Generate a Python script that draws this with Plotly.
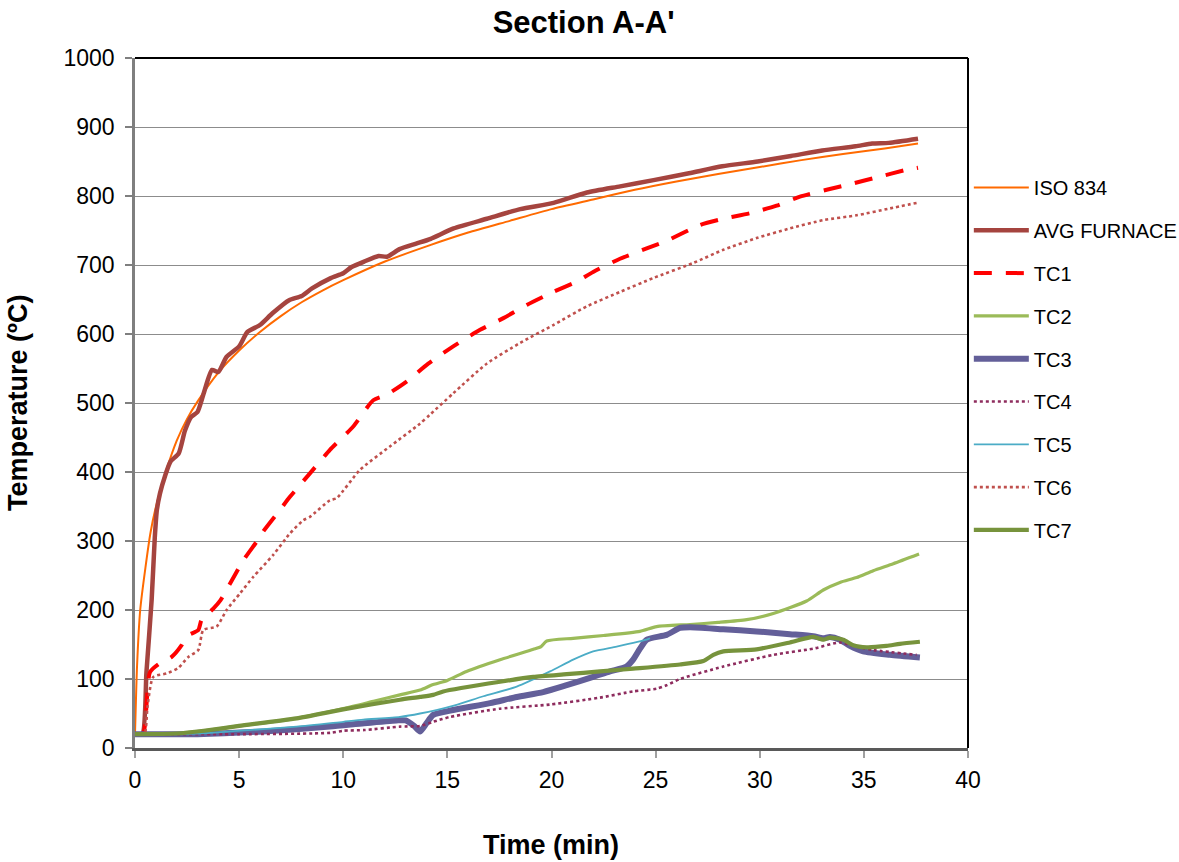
import plotly.graph_objects as go

# ---------------- data ----------------
iso_t = [0, 0.1, 0.25, 0.5, 0.75, 1, 1.5, 2, 2.5, 3, 4, 5, 6, 7, 8, 9, 10, 12, 14, 16, 18,
         20, 22, 24, 26, 28, 30, 32, 34, 36, 37.6]
iso_T = [20, 120, 200, 261, 313, 349, 402, 445, 477, 502, 544, 576, 603, 626, 646, 663, 678,
         705, 727, 747, 764, 781, 795, 809, 821, 832, 842, 852, 861, 869, 876]

avg_t = [0, 0.35, 0.55, 0.8, 0.95, 1.05, 1.2, 1.45, 1.7, 2.1, 2.4, 2.7, 3.0, 3.3, 3.7, 4.0, 4.4,
         5.0, 5.4, 6.0, 6.6, 7.4, 8.0, 8.5, 9.4, 10.0, 10.4, 11.0, 11.7, 12.1, 12.7, 13.5, 14.2,
         15.3, 16.9, 18.5, 20.1, 21.7, 23.3, 24.9, 26.6, 28.2, 29.9, 31.5, 33.0, 34.6, 35.4,
         36.2, 37.6]
avg_T = [20, 20, 110, 215, 305, 345, 369, 395, 415, 427, 460, 480, 487, 514, 548, 545, 567,
         582, 603, 613, 630, 649, 655, 666, 681, 688, 697, 705, 713, 712, 723, 731, 738,
         753, 767, 781, 790, 805, 814, 823, 833, 843, 850, 858, 866, 872, 876, 877, 883]

tc1_t = [0, 0.38, 0.72, 1.2, 1.76, 2.24, 2.48, 3.04, 3.2, 3.76, 4.1, 4.56, 5.2, 5.84, 6.16,
         6.96, 7.44, 8.4, 9.36, 10.48, 11.44, 12.08, 13.04, 14.08, 15.28, 16.57, 17.69, 18.81,
         20.09, 21.21, 22.0, 23.29, 24.57, 25.53, 27.13, 28.25, 29.53, 30.81, 31.93, 33.21,
         34.33, 35.62, 37.05, 37.6]
tc1_T = [20, 20, 110, 123, 132, 149, 162, 171, 186, 202, 214, 238, 272, 299, 314,
         345, 364, 398, 432, 466, 504, 512, 531, 557, 582, 606, 623, 642,
         661, 676, 690, 709, 724, 735, 758, 767, 775, 786, 799, 809,
         817, 827, 838, 841]

tc2_t = [0, 2, 3.3, 5, 7.76, 10, 11.5, 12.72, 13.69, 14.32, 15.0, 15.92, 17.53, 19.13, 19.5,
         19.77, 21.04, 22.5, 24.25, 25.05, 26.65, 28, 29.37, 30.65, 32.25, 33.05, 33.85, 34.65,
         35.45, 36.41, 37.65]
tc2_T = [20, 21, 25, 32, 43, 57, 68, 77, 84, 92, 98, 111, 128, 143, 147,
         155, 159, 163, 169, 176, 179, 182, 186, 195, 213, 229, 240, 247,
         257, 267, 281]

tc3_t = [0, 3, 6.16, 9.36, 11, 12.56, 13.0, 13.4, 13.69, 14.0, 14.32, 15.28, 17.05, 18.33,
         19.6, 20.73, 22.0, 22.81, 23.6, 23.92, 24.25, 24.57, 25.53, 26.17, 26.65, 28.25,
         29.85, 31.45, 32.57, 33.05, 33.37, 33.85, 34.33, 34.97, 36.25, 37.69]
tc3_T = [20, 20, 24, 31, 36, 40, 40, 32, 24, 36, 48, 55, 65, 74,
         81, 91, 103, 111, 118, 128, 144, 157, 164, 174, 175, 172,
         169, 165, 162, 159, 161, 157, 148, 140, 135, 131]

tc4_t = [0, 5, 9.4, 10, 11, 12.72, 13.69, 14.32, 15.13, 17.53, 19.93, 22.33, 23.92, 25.05,
         25.53, 26.17, 28.25, 30.65, 32.57, 33.85, 34.5, 35.45, 37.53]
tc4_T = [20, 20, 22, 25, 26, 31, 32, 38, 45, 57, 63, 73, 82, 86,
         91, 100, 118, 135, 144, 153, 148, 142, 135]

tc5_t = [0, 3, 4.56, 7.76, 10, 10.96, 12.72, 13.69, 15.13, 16.73, 18.33, 19.93, 21.04, 22.0,
         23.13, 24.57, 24.73]
tc5_T = [20, 21, 24, 31, 38, 41, 45, 50, 60, 75, 89, 111, 128, 140,
         147, 157, 159]

tc6_t = [0, 0.45, 0.6, 0.88, 1.52, 2.08, 2.56, 3.04, 3.28, 3.92, 4.4, 5.04, 5.68, 6.64, 7.44,
         8.08, 8.4, 9.36, 9.68, 10.8, 12.24, 13.68, 14.16, 15.28, 16.89, 18.49, 20.09, 21.69,
         23.29, 24.88, 26.81, 28.25, 29.85, 31.45, 33.05, 34.65, 36.25, 37.53]
tc6_T = [20, 20, 60, 103, 108, 116, 132, 142, 171, 176, 200, 224, 248, 280, 311,
         330, 335, 359, 362, 403, 437, 470, 483, 514, 557, 587, 613, 640,
         661, 681, 703, 722, 739, 753, 765, 772, 782, 790]

tc7_t = [0, 2, 3.3, 5, 7.76, 10, 12.72, 13.69, 14.32, 14.8, 17.53, 19.13, 20.73, 22.33, 23.92,
         26.17, 27.29, 27.77, 28.25, 29.85, 31.45, 32.57, 33.05, 33.37, 34.01, 34.49, 35.13,
         36.09, 36.73, 37.69]
tc7_T = [20, 21, 25, 32, 43, 56, 70, 74, 77, 82, 96, 103, 107, 111, 115,
         121, 126, 135, 140, 143, 153, 161, 157, 160, 157, 149, 146,
         148, 151, 154]

x_ticks = [0, 5, 10, 15, 20, 25, 30, 35, 40]
y_ticks = [0, 100, 200, 300, 400, 500, 600, 700, 800, 900, 1000]

# ---------------- figure ----------------
FONT = "Liberation Sans, Arial, sans-serif"

series = [
    ("ISO 834", iso_t, iso_T, dict(color="#ff6a00", width=2, dash="solid")),
    ("AVG FURNACE", avg_t, avg_T, dict(color="#a5443f", width=4.5, dash="solid")),
    ("TC1", tc1_t, tc1_T, dict(color="#ff0000", width=4, dash="18px,14px")),
    ("TC2", tc2_t, tc2_T, dict(color="#9bbb59", width=3.2, dash="solid")),
    ("TC3", tc3_t, tc3_T, dict(color="#635f99", width=6, dash="solid")),
    ("TC4", tc4_t, tc4_T, dict(color="#8e2c5e", width=2.6, dash="dot")),
    ("TC5", tc5_t, tc5_T, dict(color="#4bacc6", width=1.8, dash="solid")),
    ("TC6", tc6_t, tc6_T, dict(color="#c0504d", width=2.6, dash="dot")),
    ("TC7", tc7_t, tc7_T, dict(color="#77933c", width=4.2, dash="solid")),
]

fig = go.Figure()
for name, t, T, line in series:
    fig.add_trace(go.Scatter(x=t, y=T, mode="lines", name=name, legendgroup=name,
                             line=dict(shape="spline", smoothing=0.6, **line)))

fig.update_layout(
    width=1179, height=862,
    margin=dict(l=135, r=211, t=58, b=114, autoexpand=False),
    paper_bgcolor="white", plot_bgcolor="white",
    font=dict(family=FONT, color="#000000"),
    title=dict(text="<b>Section A-A'</b>", x=0.495, xref="container", xanchor="center",
               y=1 - 22 / 862, yref="container", yanchor="middle",
               font=dict(family=FONT, size=31, color="#000000")),
    showlegend=True,
    legend=dict(x=1.001, xanchor="left", y=1 - (168 - 58) / 690, yanchor="top",
                font=dict(family=FONT, size=20, color="#000000"),
                tracegroupgap=13.8, bgcolor="rgba(0,0,0,0)", itemwidth=55),
    xaxis=dict(range=[0, 40], tickvals=x_ticks, ticktext=[str(v) for v in x_ticks],
               showgrid=False, zeroline=False, showline=True, linecolor="#595959",
               linewidth=2.5, ticks="outside", ticklen=7, tickcolor="#a0a0a0", tickwidth=1.5,
               ticklabelstandoff=3,
               tickfont=dict(family=FONT, size=23, color="#000000")),
    yaxis=dict(range=[0, 1000], tickvals=y_ticks, ticktext=[str(v) for v in y_ticks],
               showgrid=True, gridcolor="#8c8c8c", gridwidth=1.2, zeroline=False,
               showline=True, linecolor="#7f7f7f", linewidth=2.5, ticks="outside",
               ticklen=7, tickcolor="#7f7f7f", tickwidth=1.5, ticklabelstandoff=6,
               tickfont=dict(family=FONT, size=23, color="#000000")),
    annotations=[
        dict(text="<b>Time (min)</b>", xref="paper", yref="paper", x=0.499,
             y=-(845 - 748) / 690, xanchor="center", yanchor="middle", showarrow=False,
             font=dict(family=FONT, size=27, color="#000000")),
        dict(text="<b>Temperature (ºC)</b>", xref="paper", yref="paper",
             x=(18 - 135) / 833, y=0.5, xanchor="center", yanchor="middle",
             showarrow=False, textangle=-90,
             font=dict(family=FONT, size=27, color="#000000")),
    ],
    shapes=[
        dict(type="line", xref="paper", yref="paper", x0=0, x1=1, y0=1, y1=1,
             line=dict(color="#000000", width=2)),
        dict(type="line", xref="paper", yref="paper", x0=1, x1=1, y0=0, y1=1,
             line=dict(color="#000000", width=2)),
    ],
)

fig.write_html("out.html")
